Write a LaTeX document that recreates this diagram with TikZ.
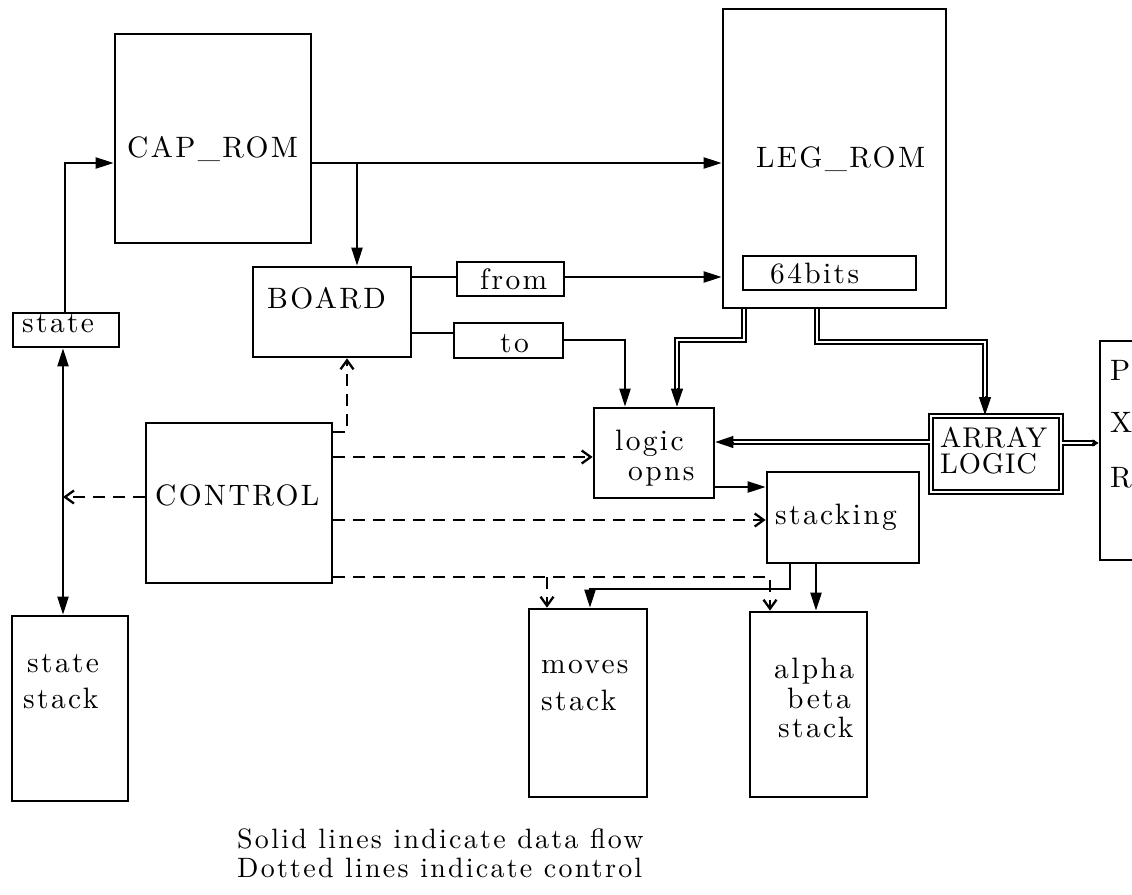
\documentclass[tikz,border=0pt]{standalone}
\usepackage{fontspec}
\setmainfont{lmroman10-regular.otf}[LetterSpace=8]
\usetikzlibrary{arrows.meta,calc}
\begin{document}
\begin{tikzpicture}[x=1pt,y=-1pt,
  box/.style={draw, line width=2.7pt, inner sep=0pt},
  sz/.style 2 args={minimum width=#1pt, minimum height=#2pt},
  ln/.style={line width=2.3pt},
  arr/.style={line width=2.3pt, -{Triangle[length=18pt,width=11pt]}},
  arrtwo/.style={line width=2.3pt, {Triangle[length=18pt,width=11pt]}-{Triangle[length=18pt,width=11pt]}},
  tip/.style={line width=1pt, -{Triangle[length=18pt,width=12pt]}},
  ctl/.style={line width=2.3pt, dash pattern=on 12pt off 8pt, -{Straight Barb[length=9pt,width=13pt]}},
  dbl/.style={line width=1.7pt, double=white, double distance=2.8pt},
  t/.style={anchor=base west, inner sep=0pt, font=\fontsize{29.5}{34}\selectfont},
  lg/.style={anchor=base west, inner sep=0pt, font=\fontsize{28}{32}\selectfont}]
\useasboundingbox (0,0) rectangle (1132,894);
\fill[white] (0,0) rectangle (1132,894);
\clip (0,0) rectangle (1132,894);

% boxes
\node[box, sz={196}{209}] (caprom) at (213,138.5) {};
\node[box, sz={106}{34}] (state) at (66,330) {};
\node[box, sz={158}{90}] (board) at (332,312) {};
\node[box, sz={107}{34}] (from) at (510.5,279) {};
\node[box, sz={109}{35}] (to) at (508.5,340.5) {};
\node[box, sz={223}{299}] (legrom) at (834.5,158.5) {};
\node[box, sz={173}{34}] (bits) at (829.5,273) {};
\node[box, sz={120}{90}] (logic) at (654,453) {};
\node[box, sz={152}{91}] (stacking) at (843,517.5) {};
\node[draw, double=white, double distance=2.6pt, line width=1.9pt, inner sep=0pt, sz={130}{76}] (array) at (996,454) {};
\node[box, sz={50}{219}] (pxr) at (1125,450.5) {};
\node[box, sz={186}{160}] (control) at (239,503) {};
\node[box, sz={116}{185}] (sstack) at (70,708.5) {};
\node[box, sz={118}{188}] (mstack) at (588,703) {};
\node[box, sz={117}{185}] (astack) at (808.5,704.5) {};

% texts
\node[t] (caprom-t) at (127,157) {CAP\_ROM};
\node[t] (board-t) at (267,308) {BOARD};
\node[t] (legrom-t) at (756,167) {LEG\_ROM};
\node[t] (bits-t) at (770,283) {64bits};
\node[t] (from-t) at (480,289) {from};
\node[t] (to-t) at (500,352) {to};
\node[t] (state-t) at (22,332) {state};
\node[t] (logic-t1) at (615,450) {logic};
\node[t] (logic-t2) at (628,480) {opns};
\node[t] (stacking-t) at (775,524) {stacking};
\node[t, font=\fontsize{28.5}{34}\selectfont\addfontfeatures{LetterSpace=3}] (array-t1) at (940,447) {ARRAY};
\node[t, font=\fontsize{28.5}{34}\selectfont\addfontfeatures{LetterSpace=3}] (array-t2) at (940,473) {LOGIC};
\node[t] (control-t) at (155,505) {CONTROL};
\node[t] (sstack-t1) at (27,672) {state};
\node[t] (sstack-t2) at (23,708) {stack};
\node[t] (mstack-t1) at (541,673) {moves};
\node[t] (mstack-t2) at (541,710) {stack};
\node[t] (astack-t1) at (774,678) {alpha};
\node[t] (astack-t2) at (787,708) {beta};
\node[t] (astack-t3) at (778,737) {stack};
\node[t] (pxr-p) at (1110,380) {P};
\node[t] (pxr-x) at (1110,432) {X};
\node[t] (pxr-r) at (1110,487) {R};
\node[lg] (leg1) at (237,848) {Solid lines indicate data flow};
\node[lg] (leg2) at (237,877) {Dotted lines indicate control};

% bend coordinates
\coordinate (k1) at (65,163);
\coordinate (k2) at (357,163);
\coordinate (yfrom) at (0,277);
\coordinate (yto) at (0,333);
\coordinate (k7) at (625,340);
\coordinate (k8a) at (744,340);
\coordinate (k8b) at (677,340);
\coordinate (k9a) at (817,342);
\coordinate (k9b) at (985,342);
\coordinate (yarr) at (0,442);
\coordinate (ypxr) at (0,443);
\coordinate (ylog) at (0,487);
\coordinate (k13a) at (790,589);
\coordinate (k13b) at (590,589);
\coordinate (x14) at (816,0);
\coordinate (xs) at (63,0);
\coordinate (yc1) at (0,497);
\coordinate (k17) at (347,432);
\coordinate (yc3) at (0,457);
\coordinate (yc4) at (0,520);
\coordinate (k20a) at (547,577);
\coordinate (k20b) at (770,577);

% data flow
\draw[arr] (state.north -| k1) |- (caprom.west |- k1);
\draw[arr] (caprom.east |- k1) -- (legrom.west |- k1);
\draw[arr] (k2) -- (board.north -| k2);
\draw[ln] (board.east |- yfrom) -- (from.west |- yfrom);
\draw[arr] (from.east |- yfrom) -- (legrom.west |- yfrom);
\draw[ln] (board.east |- yto) -- (to.west |- yto);
\draw[arr] (to.east |- k7) -| (logic.north -| k7);
\draw[dbl] (legrom.south -| k8a) -- (k8a) -- (k8b) -- ($(logic.north -| k8b)+(0,-10)$);
\draw[tip] ($(logic.north -| k8b)+(0,-19)$) -- (logic.north -| k8b);
\draw[dbl] (legrom.south -| k9a) -- (k9a) -- (k9b) -- ($(array.north -| k9b)+(0,-10)$);
\draw[tip] ($(array.north -| k9b)+(0,-19)$) -- (array.north -| k9b);
\draw[dbl] (array.west |- yarr) -- ($(logic.east |- yarr)+(10,0)$);
\draw[tip] ($(logic.east |- yarr)+(19,0)$) -- (logic.east |- yarr);
\draw[dbl] (array.east |- ypxr) -- ($(pxr.west |- ypxr)+(-4,0)$);
\draw[line width=1pt, -{Triangle[length=6pt,width=7pt]}] ($(pxr.west |- ypxr)+(-7,0)$) -- (pxr.west |- ypxr);
\draw[arr] (logic.east |- ylog) -- (stacking.west |- ylog);
\draw[arr] (stacking.south -| k13a) |- (k13b) -- (mstack.north -| k13b);
\draw[arr] (stacking.south -| x14) -- (astack.north -| x14);
\draw[arrtwo] (state.south -| xs) -- (sstack.north -| xs);

% control
\draw[ctl] (control.west |- yc1) -- (xs |- yc1);
\draw[ctl] (control.east |- k17) -| (board.south -| k17);
\draw[ctl] (control.east |- yc3) -- (logic.west |- yc3);
\draw[ctl] (control.east |- yc4) -- (stacking.west |- yc4);
\draw[ctl] (control.east |- k20a) -- (k20b) -- (astack.north -| k20b);
\draw[ctl] (k20a) -- (mstack.north -| k20a);
\end{tikzpicture}
\end{document}
